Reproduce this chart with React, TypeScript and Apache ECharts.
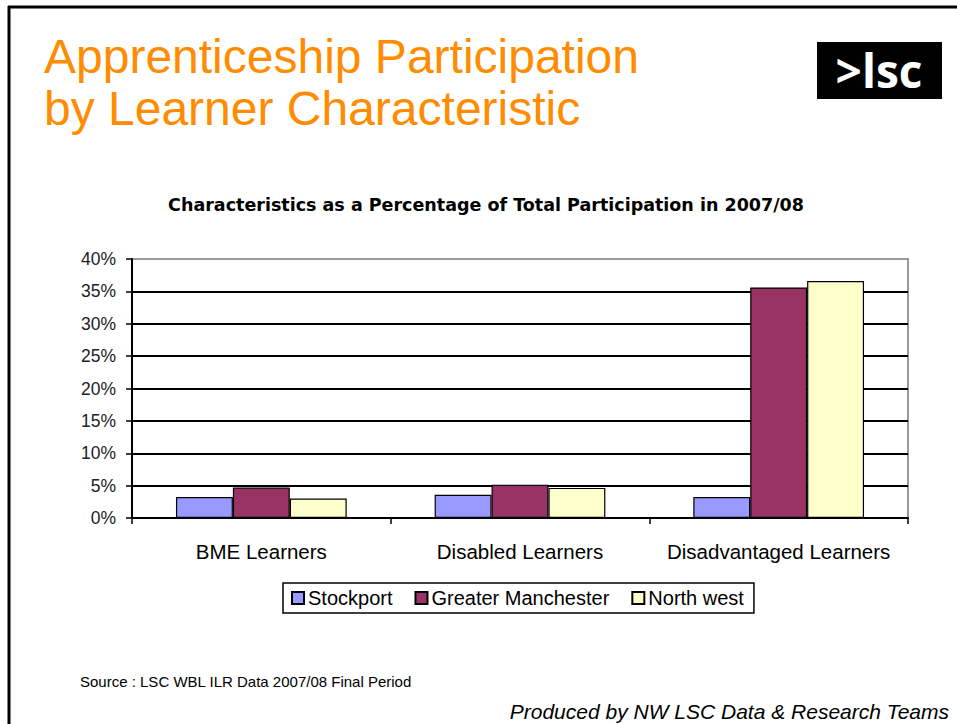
import React, { useEffect, useRef } from "react";
import * as echarts from "echarts";

const categories = ["BME Learners", "Disabled Learners", "Disadvantaged Learners"];
const seriesNames = ["Stockport", "Greater Manchester", "North west"];
const stockport = [3.25, 3.6, 3.25];
const greaterManchester = [4.7, 5.15, 35.6];
const northWest = [3.0, 4.65, 36.6];
const seriesColors = ["#9999FF", "#993366", "#FFFFCC"];
const yTicks = { min: 0, max: 40, interval: 5 };

export default function App() {
  const ref = useRef<HTMLDivElement>(null);
  useEffect(() => {
    if (!ref.current) return;
    const chart = echarts.init(ref.current, null, { renderer: "svg" });
    const values = [stockport, greaterManchester, northWest];
    const font = "'Liberation Sans', Arial, sans-serif";
    chart.setOption({
      animation: false,
      backgroundColor: "#fff",
      textStyle: { fontFamily: font },
      grid: {
        left: 132,
        top: 259,
        right: 49,
        bottom: 206,
        show: true,
        borderColor: "#9a9a9a",
        borderWidth: 2,
        backgroundColor: "transparent",
      },
      legend: {
        data: seriesNames,
        left: 283,
        top: 583,
        padding: [5, 10, 5, 8],
        itemGap: 22,
        itemWidth: 12,
        itemHeight: 12,
        icon: "rect",
        borderColor: "#000",
        borderWidth: 1.5,
        textStyle: { fontSize: 20, color: "#000", fontFamily: font, padding: [0, 0, 0, -1] },
      },
      xAxis: {
        type: "category",
        data: categories,
        axisLine: { lineStyle: { color: "#000", width: 2 } },
        axisTick: { show: true, length: 6, lineStyle: { color: "#000", width: 1.5 } },
        axisLabel: { fontSize: 20.5, color: "#000", margin: 23, fontFamily: font, interval: 0 },
      },
      yAxis: {
        type: "value",
        min: yTicks.min,
        max: yTicks.max,
        interval: yTicks.interval,
        axisLine: { show: true, lineStyle: { color: "#000", width: 2 } },
        axisTick: { show: true, length: 6, lineStyle: { color: "#000", width: 1.5 } },
        axisLabel: {
          fontSize: 17.5,
          color: "#222",
          margin: 16,
          fontFamily: font,
          formatter: (v: number) => v + "%",
        },
        splitLine: { show: true, showMaxLine: false, lineStyle: { color: "#000", width: 2 } },
      },
      series: seriesNames.map((name, i) => ({
        name,
        type: "bar",
        data: values[i],
        barGap: "0%",
        barCategoryGap: "34%",
        itemStyle: { color: seriesColors[i], borderColor: "#000", borderWidth: 1.2 },
      })),
      graphic: [
        {
          type: "line",
          shape: { x1: 8, y1: 7, x2: 957, y2: 7 },
          style: { stroke: "#000", lineWidth: 3 },
        },
        {
          type: "line",
          shape: { x1: 9, y1: 6, x2: 9, y2: 724 },
          style: { stroke: "#000", lineWidth: 3 },
        },
        {
          type: "text",
          x: 44,
          y: 56,
          style: {
            text: "Apprenticeship Participation",
            fontSize: 48,
            fontFamily: font,
            fill: "#FF8C00",
            verticalAlign: "middle",
          },
        },
        {
          type: "text",
          x: 44,
          y: 108,
          style: {
            text: "by Learner Characteristic",
            fontSize: 48,
            fontFamily: font,
            fill: "#FF8C00",
            verticalAlign: "middle",
          },
        },
        {
          type: "rect",
          shape: { x: 817, y: 42, width: 125, height: 57 },
          style: { fill: "#000" },
        },
        {
          type: "text",
          x: 879,
          y: 70,
          style: {
            text: ">lsc",
            fontSize: 46,
            fontWeight: "bold",
            fontFamily: "'Open Sans', 'DejaVu Sans', sans-serif",
            fill: "#fff",
            align: "center",
            verticalAlign: "middle",
          },
        },
        {
          type: "text",
          x: 486,
          y: 205,
          style: {
            text: "Characteristics as a Percentage of Total Participation in 2007/08",
            fontSize: 17.5,
            fontWeight: "bold",
            fontFamily: "'DejaVu Sans', sans-serif",
            fill: "#000",
            align: "center",
            verticalAlign: "middle",
          },
        },
        {
          type: "text",
          x: 80,
          y: 681,
          style: {
            text: "Source : LSC WBL ILR Data 2007/08 Final Period",
            fontSize: 15,
            fontFamily: font,
            fill: "#000",
            verticalAlign: "middle",
          },
        },
        {
          type: "text",
          x: 949,
          y: 711,
          style: {
            text: "Produced by NW LSC Data & Research Teams",
            fontSize: 21,
            fontStyle: "italic",
            fontFamily: font,
            fill: "#000",
            align: "right",
            verticalAlign: "middle",
          },
        },
      ],
    });
    return () => chart.dispose();
  }, []);
  return (
    <div
      ref={ref}
      style={{ position: "fixed", left: 0, top: 0, width: 957, height: 724, background: "#fff" }}
    />
  );
}
